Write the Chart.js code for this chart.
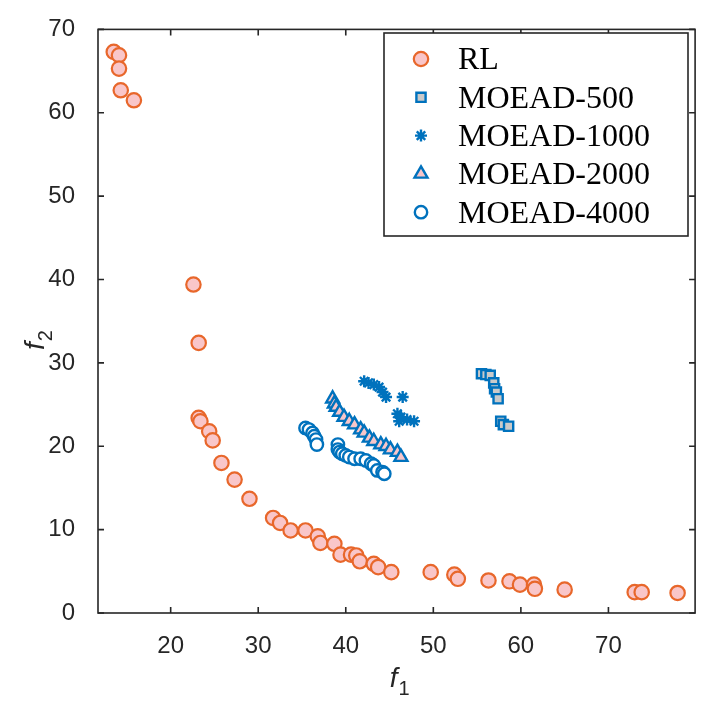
<!DOCTYPE html>
<html>
<head>
<meta charset="utf-8">
<script src="https://cdn.jsdelivr.net/npm/chart.js@4.4.1/dist/chart.umd.min.js"></script>
<style>
  html, body { margin: 0; padding: 0; background: #fff; }
  #wrap { width: 705px; height: 705px; }
</style>
</head>
<body>
<div id="wrap"><canvas id="paretoChart" width="705" height="705"></canvas></div>
<script>
// values
var rlX = [13.5, 14.1, 14.1, 14.3, 15.8, 22.6, 23.2, 23.2, 23.4, 24.4, 24.8, 25.8, 27.3, 29.0, 31.7, 32.5, 33.7, 35.4, 36.8, 37.1,
           38.7, 39.4, 40.6, 41.2, 41.6, 43.2, 43.7, 45.2, 49.7, 52.4, 52.8, 56.3, 58.7, 59.9, 61.5, 61.6, 65.0, 73.0, 73.8, 77.9];
var rlY = [67.3, 66.9, 65.3, 62.7, 61.5, 39.4, 32.4, 23.4, 23.0, 21.8, 20.7, 18.0, 16.0, 13.7, 11.4, 10.8, 9.9, 9.9, 9.2, 8.4,
           8.3, 7.0, 7.0, 6.9, 6.2, 5.9, 5.5, 4.9, 4.9, 4.6, 4.1, 3.9, 3.8, 3.4, 3.4, 2.9, 2.8, 2.5, 2.5, 2.4];

var m500X = [55.5, 56.0, 56.5, 56.9, 57.0, 57.2, 57.4, 57.7, 58.0, 58.6];
var m500Y = [28.7, 28.6, 28.5, 27.6, 26.9, 26.5, 25.7, 23.0, 22.6, 22.4];

var m1000X = [42.1, 42.6, 43.2, 43.8, 44.2, 44.6, 46.5, 45.9, 46.1, 46.3, 47.0, 47.8];
var m1000Y = [27.8, 27.6, 27.4, 27.1, 26.5, 25.9, 25.9, 23.9, 23.0, 23.5, 23.2, 23.0];

var m2000X = [38.5, 38.7, 38.9, 39.3, 39.8, 40.4, 41.0, 41.7, 42.1, 42.7, 43.2, 44.0, 44.6, 45.1, 45.9, 46.3];
var m2000Y = [25.7, 25.1, 24.7, 24.1, 23.5, 23.0, 22.6, 22.0, 21.6, 21.0, 20.6, 20.2, 20.0, 19.6, 19.3, 18.7];

var m4000X = [35.4, 35.8, 36.2, 36.4, 36.6, 36.7, 39.1, 39.1, 39.3, 39.6, 40.0, 40.4, 41.0, 41.7, 42.3, 42.9, 43.2, 43.6, 44.2, 44.4];
var m4000Y = [22.2, 22.0, 21.6, 21.2, 20.8, 20.2, 20.2, 19.6, 19.3, 19.1, 18.9, 18.7, 18.5, 18.5, 18.3, 17.9, 17.7, 17.1, 16.9, 16.7];

var seriesLabels = ['RL', 'MOEAD-500', 'MOEAD-1000', 'MOEAD-2000', 'MOEAD-4000'];
var xTicks = [20, 30, 40, 50, 60, 70];
var yTicks = [0, 10, 20, 30, 40, 50, 60, 70];

var axisColor = '#262626';
var orange = '#E8672B';
var blue = '#0072BD';

function pts(xs, ys) {
    return xs.map(function(x, i) { return { x: x, y: ys[i] }; });
}

// box, inward ticks on all four sides, axis titles with subscripts
var frame = {
    id: 'frame',
    afterDraw: function(chart) {
        var ctx = chart.ctx, a = chart.chartArea;
        var xs = chart.scales.x, ys = chart.scales.y;
        var tl = 6;
        ctx.save();
        ctx.strokeStyle = axisColor;
        ctx.lineWidth = 1.6;
        ctx.strokeRect(a.left, a.top, a.right - a.left, a.bottom - a.top);
        ctx.beginPath();
        xTicks.forEach(function(v) {
            var px = xs.getPixelForValue(v);
            ctx.moveTo(px, a.bottom); ctx.lineTo(px, a.bottom - tl);
            ctx.moveTo(px, a.top); ctx.lineTo(px, a.top + tl);
        });
        yTicks.forEach(function(v) {
            var py = ys.getPixelForValue(v);
            ctx.moveTo(a.left, py); ctx.lineTo(a.left + tl, py);
            ctx.moveTo(a.right, py); ctx.lineTo(a.right - tl, py);
        });
        ctx.stroke();

        ctx.fillStyle = axisColor;
        ctx.textBaseline = 'alphabetic';
        // x title: f_1
        var cx = (a.left + a.right) / 2;
        ctx.font = 'italic 28px "Liberation Sans", Arial, sans-serif';
        ctx.textAlign = 'right';
        ctx.fillText('f', cx + 1, 687);
        ctx.font = '20px "Liberation Sans", Arial, sans-serif';
        ctx.textAlign = 'left';
        ctx.fillText('1', cx + 2, 695);
        // y title: f_2 rotated
        var cy = (a.top + a.bottom) / 2;
        ctx.translate(44, cy + 22);
        ctx.rotate(-Math.PI / 2);
        ctx.font = 'italic 28px "Liberation Sans", Arial, sans-serif';
        ctx.textAlign = 'right';
        ctx.fillText('f', 1, 0);
        ctx.font = '20px "Liberation Sans", Arial, sans-serif';
        ctx.textAlign = 'left';
        ctx.fillText('2', 2, 8);
        ctx.restore();
    }
};

// legend box drawn inside the axes, using the datasets' own marker styles
var boxLegend = {
    id: 'boxLegend',
    afterDraw: function(chart) {
        var ctx = chart.ctx;
        var left = 384, top = 33, w = 304, h = 203;
        ctx.save();
        ctx.fillStyle = '#fff';
        ctx.fillRect(left, top, w, h);
        ctx.strokeStyle = axisColor;
        ctx.lineWidth = 1.6;
        ctx.strokeRect(left, top, w, h);
        ctx.font = '32px "Liberation Serif", "Times New Roman", serif';
        ctx.textBaseline = 'middle';
        ctx.textAlign = 'left';
        chart.data.datasets.forEach(function(ds, i) {
            var y = 59 + i * 38.3;
            ctx.fillStyle = ds.pointBackgroundColor;
            ctx.strokeStyle = ds.pointBorderColor;
            ctx.lineWidth = ds.pointBorderWidth;
            Chart.helpers.drawPoint(ctx, {
                pointStyle: ds.pointStyle,
                radius: ds.pointRadius,
                borderWidth: ds.pointBorderWidth,
                rotation: 0
            }, 421, y);
            ctx.fillStyle = '#000';
            ctx.fillText(ds.label, 458, y + 2);
        });
        ctx.restore();
    }
};

var ctx = document.getElementById('paretoChart').getContext('2d');
var chart = new Chart(ctx, {
    type: 'scatter',
    data: {
        datasets: [{
            label: seriesLabels[0],
            data: pts(rlX, rlY),
            pointStyle: 'circle',
            pointRadius: 7.2,
            pointBorderWidth: 2.2,
            pointBorderColor: orange,
            pointBackgroundColor: '#F9C6C9'
        }, {
            label: seriesLabels[1],
            data: pts(m500X, m500Y),
            pointStyle: 'rect',
            pointRadius: 6.5,
            pointBorderWidth: 2.4,
            pointBorderColor: blue,
            pointBackgroundColor: '#CACACA'
        }, {
            label: seriesLabels[2],
            data: pts(m1000X, m1000Y),
            pointStyle: 'star',
            pointRadius: 6,
            pointBorderWidth: 2.4,
            pointBorderColor: blue,
            pointBackgroundColor: blue
        }, {
            label: seriesLabels[3],
            data: pts(m2000X, m2000Y),
            pointStyle: 'triangle',
            pointRadius: 7.5,
            pointBorderWidth: 2.4,
            pointBorderColor: blue,
            pointBackgroundColor: '#F9C6C9'
        }, {
            label: seriesLabels[4],
            data: pts(m4000X, m4000Y),
            pointStyle: 'circle',
            pointRadius: 6.2,
            pointBorderWidth: 2.4,
            pointBorderColor: blue,
            pointBackgroundColor: '#fff'
        }]
    },
    options: {
        responsive: false,
        animation: false,
        devicePixelRatio: 1,
        layout: { padding: { left: 0, top: 15, right: 8, bottom: 0 } },
        plugins: {
            legend: { display: false },
            tooltip: { enabled: false }
        },
        elements: { point: { hoverRadius: 7 } },
        scales: {
            x: {
                type: 'linear',
                min: 11.7,
                max: 79.9,
                grid: { display: false },
                border: { display: false },
                afterBuildTicks: function(scale) {
                    scale.ticks = xTicks.map(function(v) { return { value: v }; });
                },
                afterFit: function(scale) { scale.height = 92; },
                ticks: {
                    padding: 11,
                    color: axisColor,
                    font: { family: '"Liberation Sans", Arial, sans-serif', size: 24 }
                }
            },
            y: {
                type: 'linear',
                min: 0,
                max: 70,
                grid: { display: false },
                border: { display: false },
                afterBuildTicks: function(scale) {
                    scale.ticks = yTicks.map(function(v) { return { value: v }; });
                },
                afterFit: function(scale) { scale.width = 98; },
                ticks: {
                    padding: 15,
                    color: axisColor,
                    font: { family: '"Liberation Sans", Arial, sans-serif', size: 24 }
                }
            }
        }
    },
    plugins: [frame, boxLegend]
});
</script>
</body>
</html>
